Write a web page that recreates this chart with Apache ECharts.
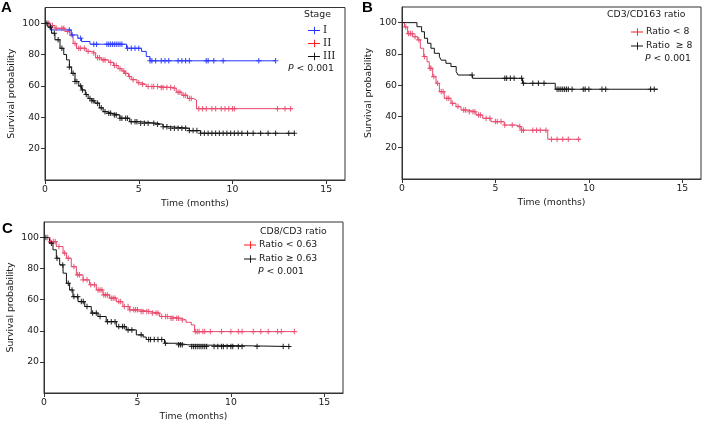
<!DOCTYPE html>
<html>
<head>
<meta charset="utf-8">
<script src="https://cdn.jsdelivr.net/npm/echarts@6/dist/echarts.min.js"></script>
<style>
html,body{margin:0;padding:0;background:#fff;}
#chart{width:721px;height:429px;}
</style>
</head>
<body>
<div id="chart"></div>
<script>
// ---------- Data ----------
// Panel A: Stage
const aStageI_t = [0, 0.27, 1.4, 1.75, 1.95, 2.4, 4.35, 5.15, 5.4, 5.6, 12.3];
const aStageI_s = [100, 95.7, 92.5, 90.4, 88.3, 86.6, 84, 82, 78.7, 76, 76];
const aStageI_cens = [1.3, 1.45, 1.9, 2.6, 2.75, 3.3, 3.4, 3.5, 3.6, 3.7, 3.8, 3.9, 4.0, 4.1, 4.4, 4.6, 4.8, 5.0, 5.6, 5.7, 5.9, 6.2, 6.4, 6.6, 7.1, 7.3, 7.5, 7.7, 8.6, 8.7, 9.0, 9.5, 11.4, 12.3];

const aStageII_t = [0, 0.25, 0.53, 1.06, 1.33, 1.5, 1.68, 2.2, 2.5, 2.7, 3.0, 3.4, 3.65, 3.9, 4.1, 4.25, 4.45, 4.6, 4.9, 5.1, 5.4, 6.1, 6.8, 7.0, 7.3, 7.6, 7.9, 8.08, 13.2];
const aStageII_s = [100, 98.5, 96.8, 94.7, 92, 87, 84, 82, 81, 78, 76.6, 75, 73, 71, 69.5, 68, 66, 64, 62, 61, 59.6, 59, 58.5, 56, 54, 52, 51, 45.5, 45.5];
const aStageII_cens = [0.2, 0.4, 0.6, 0.9, 1.0, 1.2, 1.6, 1.8, 1.9, 2.1, 2.3, 2.6, 2.8, 2.9, 3.1, 3.2, 3.5, 3.7, 3.8, 4.0, 4.2, 4.3, 4.5, 4.7, 5.0, 5.2, 5.5, 5.7, 5.8, 6.0, 6.2, 6.3, 6.5, 6.7, 6.9, 7.1, 7.2, 7.4, 7.5, 7.7, 7.8, 8.2, 8.4, 8.6, 8.9, 9.1, 9.4, 9.6, 9.8, 10.0, 10.1, 12.4, 12.8, 13.1];

const aStageIII_t = [0, 0.15, 0.35, 0.53, 0.8, 1.0, 1.15, 1.3, 1.42, 1.6, 1.8, 1.95, 2.15, 2.3, 2.5, 2.66, 2.9, 3.1, 3.3, 3.55, 3.99, 4.52, 5.05, 5.94, 6.3, 6.65, 7.7, 8.3, 13.3];
const aStageIII_s = [100, 97.5, 93.6, 89.4, 84, 80, 76.6, 72, 68, 62.8, 60, 57.4, 54.5, 52, 50.5, 49, 46, 43.6, 42.5, 41.5, 39.4, 37.2, 36.2, 35.5, 34, 33, 31.5, 29.8, 29.8];
const aStageIII_cens = [0.1, 0.3, 0.5, 0.7, 0.9, 1.3, 1.5, 1.6, 1.7, 1.9, 2.0, 2.2, 2.4, 2.5, 2.6, 2.8, 3.0, 3.2, 3.4, 3.5, 3.7, 3.8, 4.0, 4.1, 4.3, 4.4, 4.6, 4.8, 4.9, 5.1, 5.3, 5.5, 5.8, 6.0, 6.3, 6.5, 6.7, 6.9, 7.1, 7.3, 7.5, 7.7, 7.9, 8.1, 8.3, 8.5, 8.7, 8.9, 9.1, 9.3, 9.5, 9.7, 9.9, 10.1, 10.3, 10.5, 10.8, 11.1, 11.5, 11.9, 12.3, 13.0, 13.3];

// Panel B: CD3/CD163 ratio
const bLow_t = [0, 0.13, 0.3, 0.57, 0.84, 0.98, 1.16, 1.34, 1.46, 1.64, 1.82, 2.0, 2.26, 2.62, 2.89, 3.16, 3.51, 3.96, 4.32, 4.76, 5.47, 6.1, 6.37, 7.8, 9.55];
const bLow_s = [100, 97.2, 93, 91, 89, 83.6, 78.3, 75, 70.8, 65.5, 61.2, 55.9, 51.6, 48.4, 46.3, 44.1, 43, 40.9, 38.8, 36.7, 34.5, 33.5, 31.2, 25.4, 25.4];
const bLow_cens = [0.2, 0.35, 0.45, 0.55, 0.7, 0.9, 1.2, 1.5, 1.55, 1.7, 1.9, 2.1, 2.2, 2.4, 2.5, 2.7, 3.0, 3.3, 3.4, 3.6, 3.8, 3.9, 4.1, 4.2, 4.5, 4.7, 5.0, 5.1, 5.3, 5.5, 5.9, 6.3, 6.4, 6.5, 7.0, 7.2, 7.4, 7.7, 8.0, 8.3, 8.6, 8.9, 9.45];

const bHigh_t = [0, 0.8, 1.05, 1.2, 1.37, 1.55, 1.73, 2.0, 2.1, 2.35, 2.62, 2.9, 3.0, 3.78, 6.45, 8.2, 13.7];
const bHigh_s = [100, 97.4, 94.2, 90, 86.8, 83.6, 80.4, 78.2, 76, 74, 71.9, 68.7, 66.5, 64.4, 61.2, 57.4, 57.4];
const bHigh_cens = [3.75, 5.5, 5.6, 5.8, 6.0, 6.4, 6.5, 7.0, 7.3, 7.6, 8.3, 8.4, 8.5, 8.6, 8.7, 8.8, 8.9, 9.1, 9.7, 9.8, 10.0, 10.7, 10.9, 13.3, 13.5];

// Panel C: CD8/CD3 ratio
const cLow_t = [0, 0.3, 0.66, 1.02, 1.2, 1.46, 1.73, 2.09, 2.44, 2.8, 3.16, 3.51, 3.87, 4.22, 4.58, 5.12, 5.65, 6.19, 6.72, 7.3, 7.6, 7.88, 8.06, 13.4];
const cLow_s = [100, 97.4, 94.2, 90, 86.7, 81.3, 76, 72.8, 69.6, 66.3, 63.1, 61, 58.8, 55.6, 53.5, 52.4, 51.4, 49.2, 48.1, 47, 45.5, 43.8, 39.5, 39.5];
const cLow_cens = [0.2, 0.35, 0.5, 0.6, 0.8, 1.1, 1.3, 1.6, 1.8, 1.9, 2.1, 2.3, 2.5, 2.7, 2.9, 3.0, 3.1, 3.2, 3.3, 3.4, 3.6, 3.7, 3.8, 4.0, 4.1, 4.3, 4.5, 4.6, 4.8, 4.9, 5.0, 5.2, 5.3, 5.5, 5.6, 5.8, 6.0, 6.1, 6.3, 6.5, 6.6, 6.8, 6.9, 7.1, 7.2, 7.4, 8.1, 8.2, 8.3, 8.5, 8.6, 8.9, 9.5, 10.0, 10.4, 10.6, 11.2, 11.6, 12.0, 12.5, 12.7, 13.4];

const cHigh_t = [0, 0.3, 0.48, 0.66, 0.84, 1.02, 1.2, 1.37, 1.55, 1.82, 2.18, 2.53, 2.89, 3.33, 3.87, 4.4, 4.94, 5.3, 5.47, 6.45, 7.2, 7.7, 13.2];
const cHigh_s = [100, 96.4, 92.1, 86.7, 82.4, 77.1, 70.6, 66.3, 62, 58.8, 55.6, 51.4, 49.2, 45.9, 42.7, 40.6, 37.4, 36, 34.4, 32, 31, 29.9, 29.9];
const cHigh_cens = [0.1, 0.4, 0.7, 1.0, 1.3, 1.5, 1.6, 1.8, 2.0, 2.1, 2.3, 2.6, 2.8, 3.0, 3.4, 3.6, 3.8, 4.0, 4.2, 4.3, 4.5, 4.7, 5.2, 5.6, 5.7, 5.9, 6.1, 6.3, 6.5, 7.2, 7.3, 7.4, 7.9, 8.0, 8.1, 8.2, 8.3, 8.4, 8.5, 8.6, 8.7, 9.1, 9.3, 9.5, 9.6, 9.8, 10.0, 10.1, 10.4, 10.6, 11.4, 12.8, 13.1];

// Tick labels / axis settings
const xTicks = [0, 5, 10, 15];
const yTicks = [20, 40, 60, 80, 100];

// ---------- Styling ----------
const FONT = 'DejaVu Sans';
const FS = 9.3;
const TXT = '#1a1a1a';
const BLUE = '#2233ff';
const PINK = '#e8496c';
const BLACK = '#111111';
const RED_ICON = '#ff1a1a';
const PLUS = 'path://M0,2L5,2L5,3L0,3Z M2,0L3,0L3,5L2,5Z';
const LEG_ICON = 'path://M0,4L13,4L13,5L0,5Z M6.5,0.5L7.5,0.5L7.5,8.5L6.5,8.5Z';

function stepAt(ts, ss, t) {
  let v = ss[0];
  for (let i = 0; i < ts.length; i++) { if (ts[i] <= t) v = ss[i]; }
  return v;
}
function curve(ts, ss) { return ts.map((t, i) => [t, ss[i]]); }
function cens(ts, ss, cs) { return cs.map(t => [t, stepAt(ts, ss, t)]); }

const grids = [
  { left: 45, top: 7.5, width: 300, height: 172.5 },
  { left: 402, top: 7, width: 299, height: 172 },
  { left: 44, top: 222, width: 299, height: 171 }
];

function xAx(i) {
  return {
    gridIndex: i, type: 'value', min: 0, max: 16, interval: 5,
    name: 'Time (months)', nameLocation: 'middle', nameGap: 19,
    nameTextStyle: { fontFamily: FONT, fontSize: FS, color: TXT },
    axisLine: { show: true, lineStyle: { color: '#333', width: 1 } },
    axisTick: { show: true, length: 4, lineStyle: { color: '#333' },
      customValues: xTicks },
    axisLabel: { fontFamily: FONT, fontSize: FS, color: TXT, margin: 5,
      customValues: xTicks, formatter: v => String(v) },
    splitLine: { show: false }
  };
}
function yAx(i) {
  return {
    gridIndex: i, type: 'value', min: 0, max: 110, interval: 20,
    name: 'Survival probability', nameLocation: 'middle', nameGap: 29,
    nameTextStyle: { fontFamily: FONT, fontSize: FS, color: TXT },
    axisLine: { show: true, lineStyle: { color: '#333', width: 1 } },
    axisTick: { show: true, length: 4, lineStyle: { color: '#333' },
      customValues: yTicks },
    axisLabel: { fontFamily: FONT, fontSize: FS, color: TXT, margin: 5,
      customValues: yTicks, formatter: v => String(v) },
    splitLine: { show: false }
  };
}

function lineS(name, i, ts, ss, color) {
  return {
    name: name, type: 'line', xAxisIndex: i, yAxisIndex: i,
    step: 'end', showSymbol: false, symbol: 'none', silent: true,
    data: curve(ts, ss), color: color,
    lineStyle: { color: color, width: 1 }, z: 3
  };
}
function censS(name, i, ts, ss, cs, color) {
  return {
    name: name + ' (censored)', type: 'scatter', xAxisIndex: i, yAxisIndex: i,
    symbol: PLUS, symbolSize: 5.5, silent: true,
    data: cens(ts, ss, cs), itemStyle: { color: color, opacity: 0.85 }, z: 4
  };
}

const series = [
  lineS('I', 0, aStageI_t, aStageI_s, BLUE),
  lineS('II', 0, aStageII_t, aStageII_s, PINK),
  lineS('III', 0, aStageIII_t, aStageIII_s, BLACK),
  censS('I', 0, aStageI_t, aStageI_s, aStageI_cens, BLUE),
  censS('II', 0, aStageII_t, aStageII_s, aStageII_cens, PINK),
  censS('III', 0, aStageIII_t, aStageIII_s, aStageIII_cens, BLACK),
  lineS('Ratio < 8', 1, bLow_t, bLow_s, PINK),
  lineS('Ratio  ≥ 8', 1, bHigh_t, bHigh_s, BLACK),
  censS('Ratio < 8', 1, bLow_t, bLow_s, bLow_cens, PINK),
  censS('Ratio  ≥ 8', 1, bHigh_t, bHigh_s, bHigh_cens, BLACK),
  lineS('Ratio < 0.63', 2, cLow_t, cLow_s, PINK),
  lineS('Ratio ≥ 0.63', 2, cHigh_t, cHigh_s, BLACK),
  censS('Ratio < 0.63', 2, cLow_t, cLow_s, cLow_cens, PINK),
  censS('Ratio ≥ 0.63', 2, cHigh_t, cHigh_s, cHigh_cens, BLACK)
];

function legend(left, top, items, serif) {
  return {
    left: left, top: top, orient: 'vertical', icon: LEG_ICON,
    itemWidth: 12, itemHeight: 8, itemGap: 0, selectedMode: false,
    padding: 0,
    textStyle: { fontFamily: serif ? 'DejaVu Serif' : FONT, fontSize: serif ? 10.5 : FS,
      color: TXT, lineHeight: serif ? 13 : 14, padding: [0, 0, 0, -2] },
    data: items
  };
}

function pText(x, y, align) {
  return {
    type: 'text', left: x, top: y,
    style: {
      text: '{i|P} < 0.001', fontFamily: FONT, fontSize: FS, fill: TXT,
      textAlign: align || 'left',
      rich: { i: { fontStyle: 'italic', fontFamily: FONT, fontSize: FS, fill: TXT } }
    }
  };
}
function txt(x, y, s, opts) {
  return Object.assign({ type: 'text', left: x, top: y,
    style: { text: s, fontFamily: FONT, fontSize: FS, fill: TXT } }, opts || {});
}
function panelLabel(x, y, s) {
  return { type: 'text', left: x, top: y,
    style: { text: s, fontFamily: 'Liberation Sans', fontWeight: 'bold', fontSize: 15, fill: '#000' } };
}

const option = {
  backgroundColor: '#fff',
  animation: false,
  grid: grids.map(g => Object.assign({ show: true, borderColor: '#333', borderWidth: 1,
    backgroundColor: 'transparent' }, g)),
  xAxis: [xAx(0), xAx(1), xAx(2)],
  yAxis: [yAx(0), yAx(1), yAx(2)],
  legend: [
    legend(308, 24, [
      { name: 'I', itemStyle: { color: BLUE } },
      { name: 'II', itemStyle: { color: RED_ICON } },
      { name: 'III', itemStyle: { color: BLACK } }
    ], true),
    legend(631, 25, [
      { name: 'Ratio < 8', itemStyle: { color: RED_ICON } },
      { name: 'Ratio  ≥ 8', itemStyle: { color: BLACK } }
    ], false),
    legend(244, 238, [
      { name: 'Ratio < 0.63', itemStyle: { color: RED_ICON } },
      { name: 'Ratio ≥ 0.63', itemStyle: { color: BLACK } }
    ], false)
  ],
  graphic: [
    panelLabel(1, 0, 'A'),
    panelLabel(362, 0, 'B'),
    panelLabel(2, 221, 'C'),
    txt(304, 10, 'Stage'),
    pText(288, 64),
    txt(607, 10, 'CD3/CD163 ratio'),
    pText(645, 54),
    txt(260, 227, 'CD8/CD3 ratio'),
    pText(258, 267)
  ],
  series: series
};

const chart = echarts.init(document.getElementById('chart'), null, { renderer: 'canvas' });
chart.setOption(option);
</script>
</body>
</html>
